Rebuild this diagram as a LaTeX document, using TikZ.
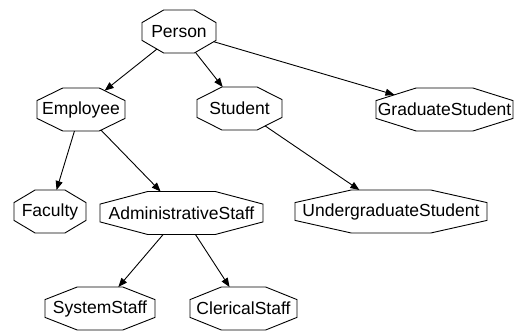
\documentclass[tikz,border=0pt]{standalone}
\usepackage{fontspec}
\setmainfont{Liberation Sans}
\usetikzlibrary{arrows.meta}

% octagon scaled to the node box (as graphviz draws it)
\makeatletter
\pgfdeclareshape{gvoctagon}{%
  \savedanchor\octcorner{%
    \pgf@x=.5\wd\pgfnodeparttextbox
    \pgfmathsetlength\pgf@xa{\pgfkeysvalueof{/pgf/inner xsep}}%
    \advance\pgf@x by\pgf@xa
    \pgfmathsetlength\pgf@xb{\pgfkeysvalueof{/pgf/minimum width}}%
    \ifdim\pgf@x<.5\pgf@xb \pgf@x=.5\pgf@xb \fi
    \pgf@y=.5\ht\pgfnodeparttextbox
    \advance\pgf@y by.5\dp\pgfnodeparttextbox
    \pgfmathsetlength\pgf@ya{\pgfkeysvalueof{/pgf/inner ysep}}%
    \advance\pgf@y by\pgf@ya
    \pgfmathsetlength\pgf@yb{\pgfkeysvalueof{/pgf/minimum height}}%
    \ifdim\pgf@y<.5\pgf@yb \pgf@y=.5\pgf@yb \fi
  }%
  \savedanchor\octtext{%
    \pgf@x=-.5\wd\pgfnodeparttextbox
    \pgf@y=.5\dp\pgfnodeparttextbox
    \advance\pgf@y by-.5\ht\pgfnodeparttextbox
  }%
  \anchor{center}{\pgfpointorigin}%
  \anchor{text}{\octtext}%
  \anchor{north}{\octcorner\pgf@x=0pt}%
  \anchor{south}{\octcorner\pgf@x=0pt\pgf@y=-\pgf@y}%
  \anchor{east}{\octcorner\pgf@y=0pt}%
  \anchor{west}{\octcorner\pgf@y=0pt\pgf@x=-\pgf@x}%
  \anchorborder{%
    \edef\oct@dx{\pgf@sys@tonumber{\pgf@x}}%
    \edef\oct@dy{\pgf@sys@tonumber{\pgf@y}}%
    \octcorner
    \edef\oct@a{\pgf@sys@tonumber{\pgf@x}}%
    \edef\oct@b{\pgf@sys@tonumber{\pgf@y}}%
    \pgfmathsetmacro\oct@t{min(\oct@a/max(abs(\oct@dx),0.01),\oct@b/max(abs(\oct@dy),0.01),1.4142/max(abs(\oct@dx)/\oct@a+abs(\oct@dy)/\oct@b,0.0001))}%
    \pgfmathsetmacro\oct@px{\oct@t*\oct@dx}%
    \pgfmathsetmacro\oct@py{\oct@t*\oct@dy}%
    \pgf@x=\oct@px pt\relax
    \pgf@y=\oct@py pt\relax
  }%
  \backgroundpath{%
    \octcorner
    \edef\oct@a{\the\pgf@x}\edef\oct@b{\the\pgf@y}%
    \pgf@x=.414\pgf@x \pgf@y=.414\pgf@y
    \edef\oct@c{\the\pgf@x}\edef\oct@d{\the\pgf@y}%
    \pgfpathmoveto{\pgfqpoint{-\oct@c}{\oct@b}}%
    \pgfpathlineto{\pgfqpoint{\oct@c}{\oct@b}}%
    \pgfpathlineto{\pgfqpoint{\oct@a}{\oct@d}}%
    \pgfpathlineto{\pgfqpoint{\oct@a}{-\oct@d}}%
    \pgfpathlineto{\pgfqpoint{\oct@c}{-\oct@b}}%
    \pgfpathlineto{\pgfqpoint{-\oct@c}{-\oct@b}}%
    \pgfpathlineto{\pgfqpoint{-\oct@a}{-\oct@d}}%
    \pgfpathlineto{\pgfqpoint{-\oct@a}{\oct@d}}%
    \pgfpathclose
  }%
}
\makeatother

\tikzset
{
    classnode/.style = {gvoctagon, draw=black, line width=0.9pt, inner sep=0pt, minimum height=43pt, align=center, font=\fontsize{17.5}{20}\selectfont},
    arrow/.style     = {line width=0.9pt, -{Triangle[length=9pt,width=7pt]}}
}

\begin{document}
\begin{tikzpicture}[x=1pt, y=-1pt]
\useasboundingbox (0,0) rectangle (516,331);
\node(person) [classnode, minimum width=74pt] at (179, 31.5) {Person};
\node(employee) [classnode, minimum width=88pt] at (81, 109.5) {Employee};
\node(student) [classnode, minimum width=85pt] at (239.5, 108.5) {Student};
\node(gradstudent) [classnode, minimum width=137pt] at (444.5, 109.5) {GraduateStudent};
\node(faculty) [classnode, minimum width=72pt] at (50, 211.5) {Faculty};
\node(adminstaff) [classnode, minimum width=163pt] at (181.5, 213) {AdministrativeStaff};
\node(ugstudent) [classnode, minimum width=192pt] at (391, 211.5) {UndergraduateStudent};
\node(systemstaff) [classnode, minimum width=110pt] at (100, 308.5) {SystemStaff};
\node(clericalstaff) [classnode, minimum width=107pt] at (243.5, 308.5) {ClericalStaff};
\draw[arrow] (person) -- (employee);
\draw[arrow] (person) -- (student.128);
\draw[arrow] (person) -- (gradstudent);
\draw[arrow] (employee) -- (faculty);
\draw[arrow] (employee) -- (adminstaff);
\draw[arrow] (student) -- (ugstudent);
\draw[arrow] (adminstaff) -- (systemstaff);
\draw[arrow] (adminstaff) -- (clericalstaff);
\end{tikzpicture}
\end{document}
